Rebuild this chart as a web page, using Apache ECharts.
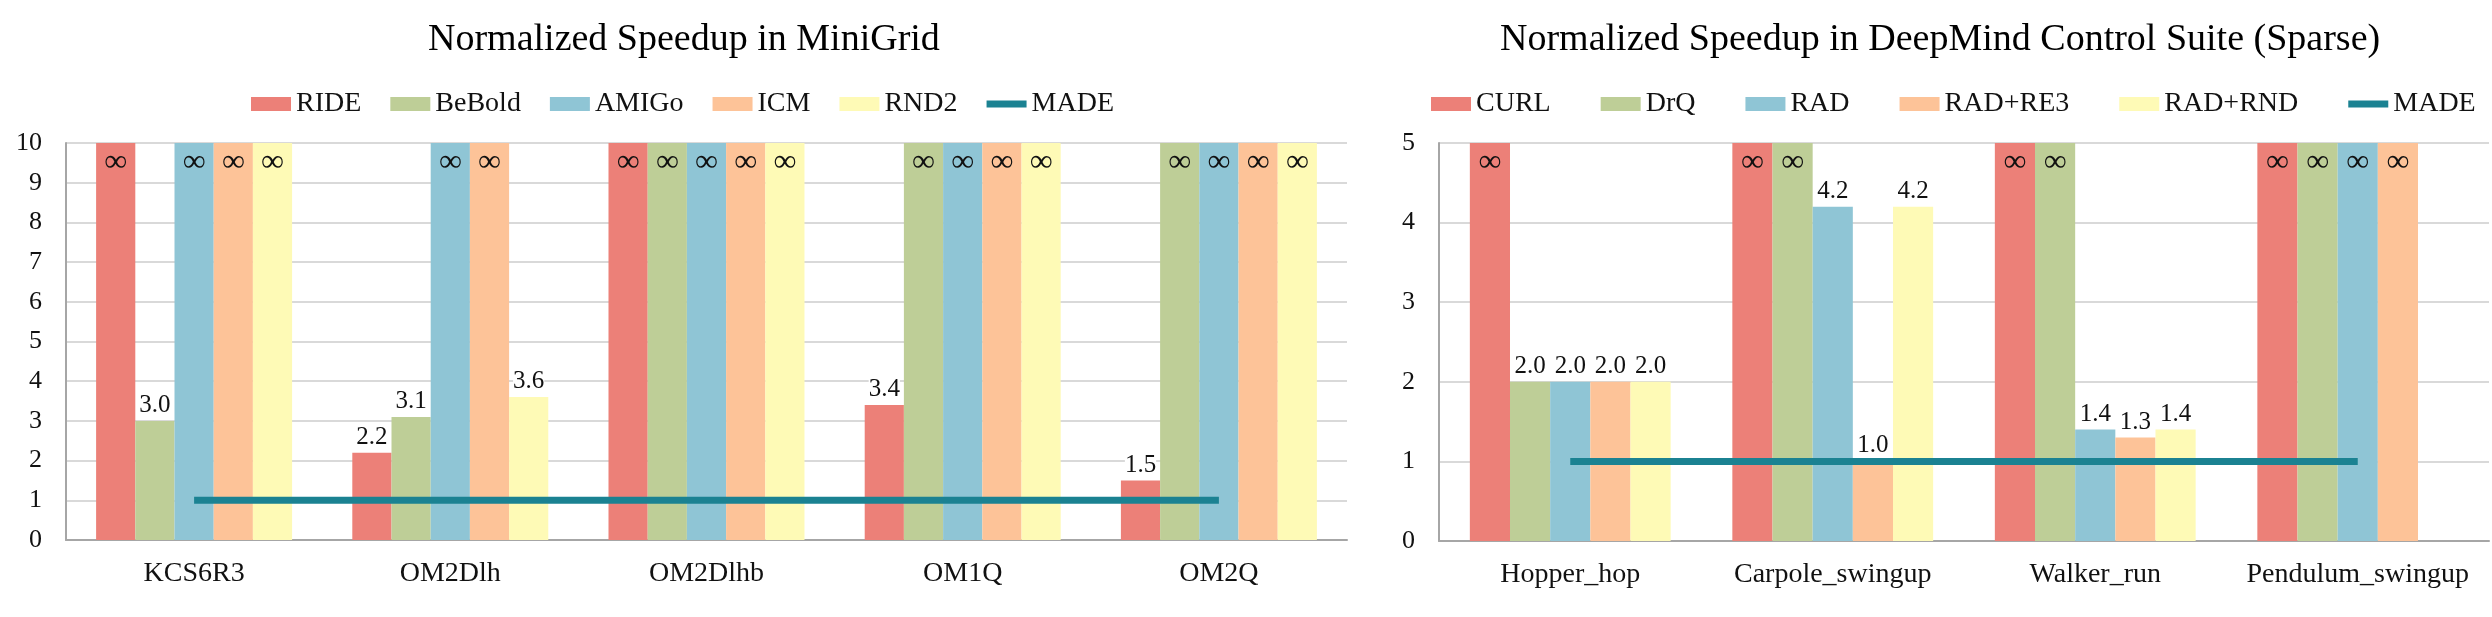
<!DOCTYPE html>
<html>
<head>
<meta charset="utf-8">
<script src="https://cdn.jsdelivr.net/npm/echarts@6/dist/echarts.min.js"></script>
<style>
html, body { margin: 0; padding: 0; background: #fff; }
#main { width: 2492px; height: 617px; }
</style>
</head>
<body>
<div id="main"></div>
<script>
const INF = Infinity;

// MiniGrid
const gridCategories = ['KCS6R3', 'OM2Dlh', 'OM2Dlhb', 'OM1Q', 'OM2Q'];
const gridNames = ['RIDE', 'BeBold', 'AMIGo', 'ICM', 'RND2'];
const gridRIDE = [INF, 2.2, INF, 3.4, 1.5];
const gridBeBold = [3.0, 3.1, INF, INF, INF];
const gridAMIGo = [INF, INF, INF, INF, INF];
const gridICM = [INF, INF, INF, INF, INF];
const gridRND2 = [INF, 3.6, INF, INF, INF];
const gridMADE = [1, 1, 1, 1, 1];
const gridMax = 10;

// DeepMind Control Suite (Sparse)
const dmcCategories = ['Hopper_hop', 'Carpole_swingup', 'Walker_run', 'Pendulum_swingup'];
const dmcNames = ['CURL', 'DrQ', 'RAD', 'RAD+RE3', 'RAD+RND'];
const dmcCURL = [INF, INF, INF, INF];
const dmcDrQ = [2.0, INF, INF, INF];
const dmcRAD = [2.0, 4.2, 1.4, INF];
const dmcRE3 = [2.0, 1.0, 1.3, INF];
const dmcRND = [2.0, 4.2, 1.4, null];
const dmcMADE = [1, 1, 1, 1];
const dmcMax = 5;

const colors = ['#EC8078', '#BECE97', '#8FC5D5', '#FDC398', '#FEFAB6'];
const madeColor = '#1B8292';
const font = 'Liberation Serif';
// flat bar for the MADE legend entry, corner specks keep the box at 40x14
const madeIcon = 'path://M0,0L0.01,0L0,0.01Z M40,14L39.99,14L40,13.99Z M0,3.5L40,3.5L40,10.5L0,10.5Z';

const chart = echarts.init(document.getElementById('main'));

function barSeries(name, values, color, idx, cap) {
  return {
    name: name,
    type: 'bar',
    xAxisIndex: idx,
    yAxisIndex: idx,
    barGap: '0%',
    barCategoryGap: '23.5%',
    itemStyle: { color: color },
    label: {
      show: true,
      position: 'top',
      distance: 3,
      fontFamily: font,
      fontSize: 25,
      color: '#111',
      backgroundColor: '#fff',
      formatter: p => {
        const v = values[p.dataIndex];
        return isFinite(v) ? v.toFixed(1) : '\u221e';
      }
    },
    data: values.map(v => {
      if (v === null) return null;
      if (isFinite(v)) return v;
      return {
        value: cap,
        label: { position: 'insideTop', distance: 4, fontSize: 32, backgroundColor: 'transparent' }
      };
    })
  };
}

function lineSeries(values, idx) {
  return {
    name: 'MADE',
    type: 'line',
    xAxisIndex: idx,
    yAxisIndex: idx,
    symbol: 'none',
    z: 5,
    lineStyle: { width: 7, color: madeColor },
    itemStyle: { color: madeColor },
    data: values
  };
}

function legendData(names) {
  return names.map(n => ({ name: n, icon: 'rect' }))
    .concat([{ name: 'MADE', icon: madeIcon, itemStyle: { color: madeColor, borderWidth: 0 } }]);
}

const xAxisBase = {
  type: 'category',
  axisTick: { show: false },
  axisLine: { lineStyle: { color: '#a6a6a6', width: 2 } },
  axisLabel: { interval: 0, fontFamily: font, fontSize: 28, color: '#111', margin: 20 }
};
const yAxisBase = {
  type: 'value',
  min: 0,
  interval: 1,
  axisLine: { show: true, lineStyle: { color: '#a6a6a6', width: 2 } },
  axisTick: { show: false },
  splitLine: { lineStyle: { color: '#d9d9d9', width: 2 } },
  axisLabel: { fontFamily: font, fontSize: 26, color: '#111', margin: 24 }
};

const gridSeries = [gridRIDE, gridBeBold, gridAMIGo, gridICM, gridRND2]
  .map((vals, i) => barSeries(gridNames[i], vals, colors[i], 0, gridMax));
const dmcSeries = [dmcCURL, dmcDrQ, dmcRAD, dmcRE3, dmcRND]
  .map((vals, i) => barSeries(dmcNames[i], vals, colors[i], 1, dmcMax));

const option = {
  animation: false,
  title: [
    {
      text: 'Normalized Speedup in MiniGrid',
      left: 423,
      top: 16,
      textStyle: { fontFamily: font, fontSize: 38, fontWeight: 'normal', color: '#000' }
    },
    {
      text: 'Normalized Speedup in DeepMind Control Suite (Sparse)',
      left: 1495,
      top: 16,
      textStyle: { fontFamily: font, fontSize: 38, fontWeight: 'normal', color: '#000' }
    }
  ],
  legend: [
    {
      data: legendData(gridNames),
      left: 246,
      top: 85,
      itemWidth: 40,
      itemHeight: 14,
      itemGap: 29,
      textStyle: { fontFamily: font, fontSize: 28, color: '#111' }
    },
    {
      data: legendData(dmcNames),
      left: 1426,
      top: 85,
      itemWidth: 40,
      itemHeight: 14,
      itemGap: 50,
      textStyle: { fontFamily: font, fontSize: 28, color: '#111' }
    }
  ],
  grid: [
    { left: 66, top: 143, width: 1281, height: 397 },
    { left: 1439, top: 143, width: 1050, height: 398 }
  ],
  xAxis: [
    Object.assign({}, xAxisBase, { gridIndex: 0, data: gridCategories }),
    Object.assign({}, xAxisBase, { gridIndex: 1, data: dmcCategories })
  ],
  yAxis: [
    Object.assign({}, yAxisBase, { gridIndex: 0, max: gridMax }),
    Object.assign({}, yAxisBase, { gridIndex: 1, max: dmcMax })
  ],
  series: gridSeries.concat([lineSeries(gridMADE, 0)])
    .concat(dmcSeries).concat([lineSeries(dmcMADE, 1)])
};

chart.setOption(option);
</script>
</body>
</html>
